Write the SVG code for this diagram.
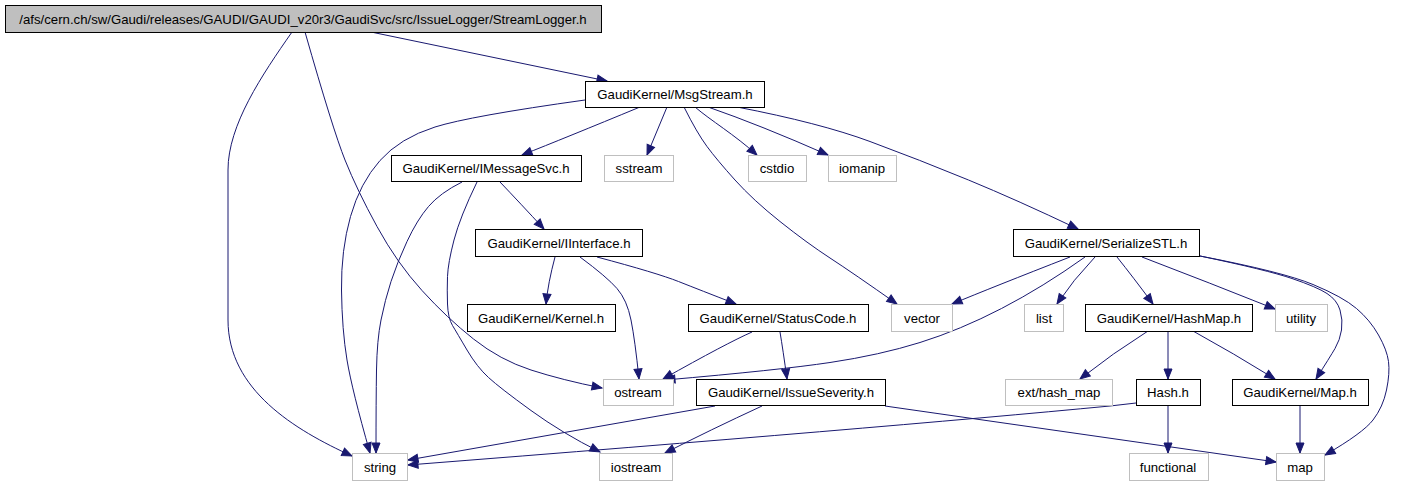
<svg xmlns="http://www.w3.org/2000/svg" width="1405" height="485" viewBox="0 0 1405 485">
<style>
text{font-family:"Liberation Sans",Arial,sans-serif;font-size:13.2px;text-anchor:middle;fill:#000}
.n rect{fill:#fff;stroke:#000;stroke-width:1}
.s rect{fill:#fff;stroke:#bfbfbf;stroke-width:1}
.r rect{fill:#bfbfbf;stroke:#000;stroke-width:1}
#edges path{fill:none;stroke:#191970;stroke-width:1;marker-end:url(#arr)}
</style>
<defs>
<marker id="arr" markerUnits="userSpaceOnUse" markerWidth="10" markerHeight="8" refX="10" refY="4" orient="auto" overflow="visible">
<path d="M0,0 L10,4 L0,8 z" fill="#191970" stroke="#191970" stroke-width="1"/>
</marker>
</defs>
<rect width="1405" height="485" fill="#fff"/>
<g id="edges">
<path d="M371,32 L607,81"/>
<path d="M292,32 C262,75 228,125 228,170 L228,320 C228,390 295,430 352,456"/>
<path d="M305,32 Q333,130 345,160 Q357,190 377,226.5 Q397,263 422,290.5 Q447,318 473.5,339 Q500,360 531,370 Q562,380 602,388"/>
<path d="M585,100 Q470,116 435,127 Q400,138 380,160.5 Q360,183 350.5,216.5 Q341,250 341.5,290 Q342,330 347,360 Q352,390 370,453"/>
<path d="M640,107 Q565,138 522,155"/>
<path d="M667,107 L647,155"/>
<path d="M684,107 Q697,133 707,146.5 Q717,160 735,180 Q753,200 780,221.5 Q807,243 830,258 Q853,273 897,304"/>
<path d="M695,107 C710,120 735,135 757,155"/>
<path d="M708,107 Q760,125 828,155"/>
<path d="M737,107 Q820,123 870,141.5 Q920,160 968.5,180 Q1017,200 1078,229"/>
<path d="M462,182 Q440,193 428.5,206.5 Q417,220 407,241.5 Q397,263 391,281.5 Q385,300 381,320 Q377,340 376.5,370 Q376,400 376,453"/>
<path d="M477,182 Q460,217 454,240 Q448,263 447.5,276.5 Q447,290 447.5,304 Q448,318 452.5,325.5 Q457,333 467,350 Q477,367 488.5,377.5 Q500,388 531,410.5 Q562,433 600,452"/>
<path d="M500,182 Q520,203 544,229"/>
<path d="M555,257 Q548,283 546,304"/>
<path d="M580,257 Q607,277 617,288.5 Q627,300 631,320 Q635,340 639,379"/>
<path d="M597,257 Q657,273 678.5,281.5 Q700,290 736,304"/>
<path d="M752,332 Q727,343 663,379"/>
<path d="M780,332 Q783,350 787,379"/>
<path d="M715,406 L408,460"/>
<path d="M762,406 Q710,430 665,453"/>
<path d="M885,406 L1276,462"/>
<path d="M1070,257 Q993,287 952,304"/>
<path d="M1085,257 Q1043,287 1001.5,308.5 Q960,330 920,342.5 Q880,355 830,362.5 Q780,370 665,380"/>
<path d="M1095,257 Q1073,280 1057,304"/>
<path d="M1117,257 Q1133,277 1153,304"/>
<path d="M1142,257 Q1210,283 1275,309"/>
<path d="M1200,256 Q1267,270 1292,278.5 Q1317,287 1327,293.5 Q1337,300 1340,310 Q1343,320 1341.5,330 Q1340,340 1335,348.5 Q1330,357 1316,379"/>
<path d="M1200,256 Q1283,272 1313,284.5 Q1343,297 1356.5,308.5 Q1370,320 1378.5,335 Q1387,350 1388.5,361.5 Q1390,373 1386.5,390 Q1383,407 1373,420 Q1363,433 1325,455"/>
<path d="M1148,331 Q1113,353 1080,379"/>
<path d="M1168,331 L1168,379"/>
<path d="M1193,331 Q1233,353 1275,379"/>
<path d="M1136,403 L1110,406 Q880,428 408,465"/>
<path d="M1168,405 L1168,453"/>
<path d="M1300,405 L1300,453"/>
</g>
<g id="n_root" class="r"><rect x="5.5" y="5.5" width="596" height="27"/><text x="303" y="24">/afs/cern.ch/sw/Gaudi/releases/GAUDI/GAUDI_v20r3/GaudiSvc/src/IssueLogger/StreamLogger.h</text></g>
<g id="n_msgstream" class="n"><rect x="585.5" y="81.5" width="179" height="26"/><text x="675" y="99">GaudiKernel/MsgStream.h</text></g>
<g id="n_sstream" class="s"><rect x="604.5" y="155.5" width="69" height="26"/><text x="639" y="173">sstream</text></g>
<g id="n_cstdio" class="s"><rect x="748.5" y="155.5" width="58" height="26"/><text x="777" y="173">cstdio</text></g>
<g id="n_iomanip" class="s"><rect x="828.5" y="155.5" width="68" height="26"/><text x="862" y="173">iomanip</text></g>
<g id="n_imessagesvc" class="n"><rect x="391.5" y="155.5" width="190" height="26"/><text x="486" y="173">GaudiKernel/IMessageSvc.h</text></g>
<g id="n_iinterface" class="n"><rect x="475.5" y="229.5" width="167" height="27"/><text x="559" y="248">GaudiKernel/IInterface.h</text></g>
<g id="n_kernel" class="n"><rect x="467.5" y="304.5" width="148" height="27"/><text x="541" y="323">GaudiKernel/Kernel.h</text></g>
<g id="n_statuscode" class="n"><rect x="688.5" y="304.5" width="180" height="27"/><text x="778" y="323">GaudiKernel/StatusCode.h</text></g>
<g id="n_vector" class="s"><rect x="891.5" y="304.5" width="61" height="27"/><text x="922" y="323">vector</text></g>
<g id="n_ostream" class="s"><rect x="603.5" y="379.5" width="70" height="26"/><text x="638" y="397">ostream</text></g>
<g id="n_issueseverity" class="n"><rect x="696.5" y="379.5" width="189" height="26"/><text x="791" y="397">GaudiKernel/IssueSeverity.h</text></g>
<g id="n_iostream" class="s"><rect x="599.5" y="453.5" width="73" height="27"/><text x="636" y="472">iostream</text></g>
<g id="n_string" class="s"><rect x="352.5" y="453.5" width="55" height="27"/><text x="380" y="472">string</text></g>
<g id="n_serializestl" class="n"><rect x="1013.5" y="229.5" width="186" height="27"/><text x="1106" y="248">GaudiKernel/SerializeSTL.h</text></g>
<g id="n_list" class="s"><rect x="1024.5" y="304.5" width="39" height="27"/><text x="1044" y="323">list</text></g>
<g id="n_hashmap" class="n"><rect x="1085.5" y="304.5" width="167" height="27"/><text x="1169" y="323">GaudiKernel/HashMap.h</text></g>
<g id="n_utility" class="s"><rect x="1275.5" y="304.5" width="52" height="27"/><text x="1301" y="323">utility</text></g>
<g id="n_ext_hash_map" class="s"><rect x="1005.5" y="379.5" width="107" height="26"/><text x="1059" y="397">ext/hash_map</text></g>
<g id="n_hash" class="n"><rect x="1136.5" y="379.5" width="64" height="26"/><text x="1168" y="397">Hash.h</text></g>
<g id="n_map_h" class="n"><rect x="1232.5" y="379.5" width="136" height="26"/><text x="1300" y="397">GaudiKernel/Map.h</text></g>
<g id="n_functional" class="s"><rect x="1129.5" y="453.5" width="79" height="27"/><text x="1168" y="472">functional</text></g>
<g id="n_map" class="s"><rect x="1276.5" y="453.5" width="48" height="27"/><text x="1300" y="472">map</text></g>
</svg>
